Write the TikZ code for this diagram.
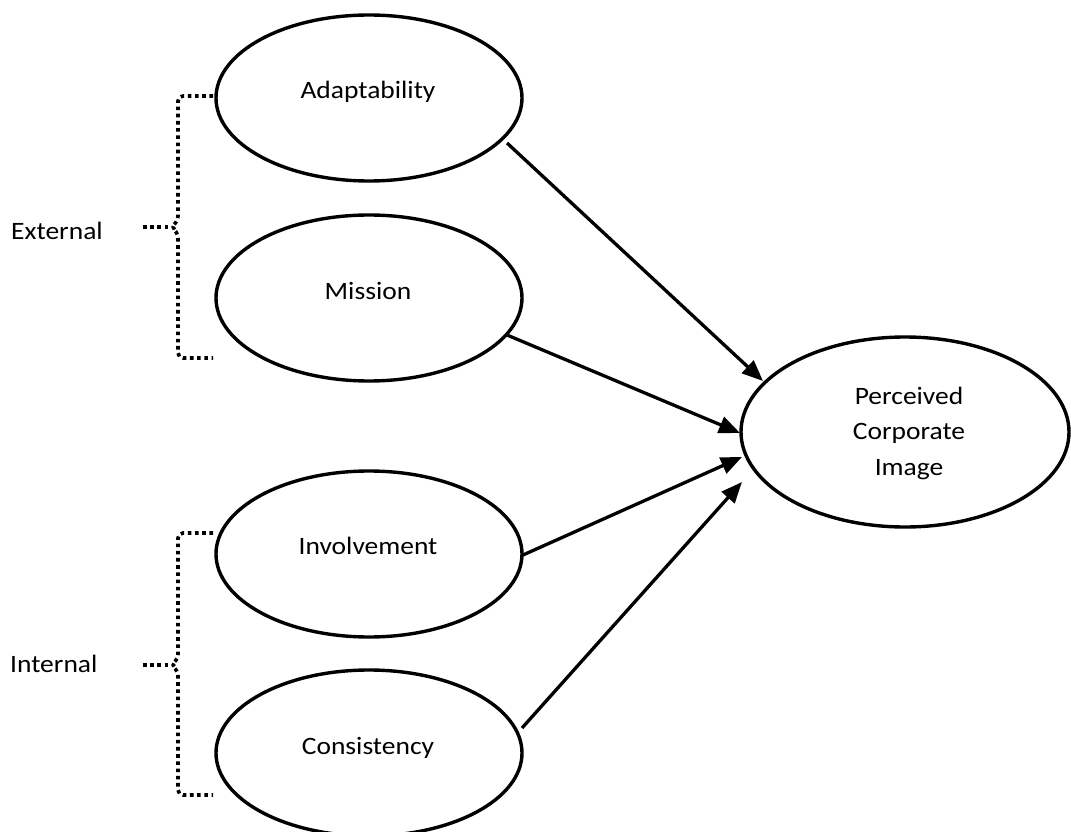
\documentclass[tikz,border=0pt]{standalone}
\usepackage{fontspec}
\setmainfont{Carlito}[FakeStretch=1.1]
\usetikzlibrary{arrows.meta,shapes.geometric}
\begin{document}
\begin{tikzpicture}[x=1pt,y=-1pt,
  ell/.style={draw, line width=3.4pt, ellipse, inner sep=0pt, minimum width=306pt, minimum height=166pt},
  lbl/.style={font=\fontsize{25}{30}\selectfont, anchor=base, inner sep=0pt},
  arr/.style={line width=3.3pt, -{Triangle[length=21pt,width=17pt]}},
  brk/.style={line width=3.6pt, dash pattern=on 3.6pt off 3.6pt, rounded corners=5pt}]
\useasboundingbox (0,0) rectangle (1071,832);
\fill[white] (0,0) rectangle (1071,832);

% ellipses
\node[ell] (A) at (369,98) {};
\node[ell] (M) at (369,298) {};
\node[ell] (I) at (369,554) {};
\node[ell] (C) at (369,753) {};
\node[ell, minimum width=328pt, minimum height=190pt] (P) at (905,432) {};

% texts
\node[lbl] (tA) at (368,99) {Adaptability};
\node[lbl] (tM) at (368,299) {Mission};
\node[lbl] (tI) at (368,554) {Involvement};
\node[lbl] (tC) at (368,754) {Consistency};
\node[font=\fontsize{25}{35.5}\selectfont, align=center, inner sep=0pt] (tP) at (909,433) {Perceived\\Corporate\\Image};
\node[lbl, anchor=base west] (ext) at (11,239) {External};
\node[lbl, anchor=base west] (int) at (10,672) {Internal};

% arrow end points
\coordinate (a1) at (507,143);
\coordinate (a2) at (507,335);
\coordinate (a3) at (523,555);
\coordinate (a4) at (522,728);
\coordinate (p1) at (763,381);
\coordinate (p2) at (740,433);
\coordinate (p3) at (742,457);
\coordinate (p4) at (742,482);
\draw[arr] (a1) -- (p1);
\draw[arr] (a2) -- (p2);
\draw[arr] (a3) -- (p3);
\draw[arr] (a4) -- (p4);

% brackets
\coordinate (eT) at (213,96);
\coordinate (eB) at (213,358);
\coordinate (eK) at (143,227);
\draw[brk] (eT) -- (178,96) -- (178,221) -- (171,227) -- (178,233) -- (178,358) -- (eB);
\draw[brk] (eK) -- (171,227);

\coordinate (iT) at (213,533);
\coordinate (iB) at (213,795);
\coordinate (iK) at (143,665);
\draw[brk] (iT) -- (178,533) -- (178,659) -- (171,665) -- (178,671) -- (178,795) -- (iB);
\draw[brk] (iK) -- (171,665);
\end{tikzpicture}
\end{document}
